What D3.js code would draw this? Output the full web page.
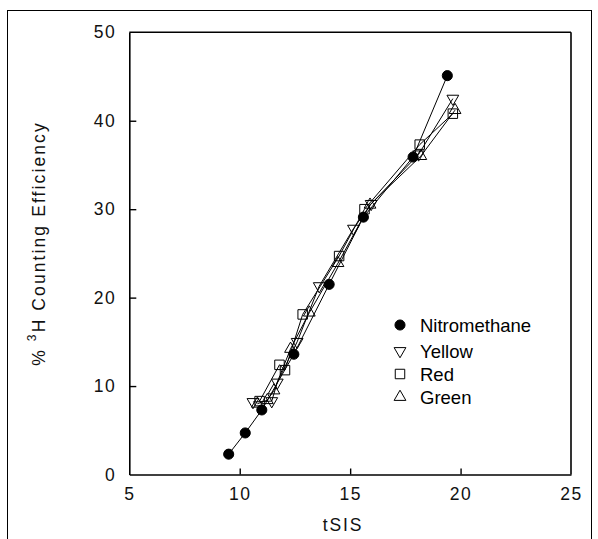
<!DOCTYPE html>
<html><head><meta charset="utf-8">
<script src="https://cdn.jsdelivr.net/npm/d3@7"></script>
<style>body{margin:0;background:#fff}svg{display:block}</style>
</head><body>
<svg id="c" width="598" height="539"></svg>
<script>
const xTicks = [5, 10, 15, 20, 25];
const yTicks = [0, 10, 20, 30, 40, 50];

const nitroX = [9.5, 10.25, 11.0, 12.45, 14.05, 15.6, 17.85, 19.4];
const nitroY = [2.3, 4.7, 7.3, 13.6, 21.5, 29.1, 35.9, 45.1];

const yellowX = [10.6, 11.45, 11.7, 12.6, 13.6, 15.15, 15.95, 18.1, 19.65];
const yellowY = [8.2, 8.3, 10.4, 15.0, 21.3, 27.8, 30.6, 36.2, 42.5];

const redX = [10.9, 11.8, 12.05, 12.85, 14.5, 15.65, 18.15, 19.65];
const redY = [8.3, 12.4, 11.8, 18.1, 24.7, 30.0, 37.3, 40.8];

const greenX = [10.8, 11.25, 11.55, 12.3, 13.15, 14.45, 15.9, 18.2, 19.75];
const greenY = [8.0, 8.4, 9.5, 14.2, 18.3, 23.9, 30.5, 36.0, 41.2];

const seriesNames = ["Nitromethane", "Yellow", "Red", "Green"];

const svg = d3.select("#c");
const x = d3.scaleLinear().domain([5, 25]).range([129.3, 571]);
const y = d3.scaleLinear().domain([0, 50]).range([474.5, 32.3]);

// outer frame
svg.append("rect").attr("x", 7.5).attr("y", 10.5).attr("width", 584).attr("height", 540)
  .attr("fill", "none").attr("stroke", "#000").attr("stroke-width", 1);

const fontAxis = "Liberation Sans, Arial, sans-serif";

// axes
const gx = svg.append("g").attr("transform", `translate(0,${y(0)})`)
  .call(d3.axisBottom(x).tickValues(xTicks).tickSizeInner(-6).tickSizeOuter(0).tickPadding(13));
const gy = svg.append("g").attr("transform", `translate(${x(5)},0)`)
  .call(d3.axisLeft(y).tickValues(yTicks).tickSizeInner(-7).tickSizeOuter(0).tickPadding(13));
[gx, gy].forEach(g => {
  g.select(".domain").attr("stroke", "#000").attr("stroke-width", 1.6);
  g.selectAll(".tick line").attr("stroke", "#000").attr("stroke-width", 1.4);
  g.selectAll(".tick text").attr("font-family", fontAxis).attr("font-size", 17.5)
    .attr("letter-spacing", 1.5).attr("fill", "#111");
});
gx.selectAll(".tick").filter(d => d === 5 || d === 25).select("line").remove();
gy.selectAll(".tick").filter(d => d === 0 || d === 50).select("line").remove();

// top and right box lines
svg.append("line").attr("x1", x(5)).attr("x2", x(25)).attr("y1", y(50)).attr("y2", y(50))
  .attr("stroke", "#000").attr("stroke-width", 1.6);
svg.append("line").attr("x1", x(25)).attr("x2", x(25)).attr("y1", y(50)).attr("y2", y(0))
  .attr("stroke", "#000").attr("stroke-width", 1.6);

// axis titles
svg.append("text").attr("x", 343).attr("y", 531).attr("text-anchor", "middle").attr("fill", "#111")
  .attr("font-family", fontAxis).attr("font-size", 17.5).attr("letter-spacing", 1.8).text("tSIS");
const yl = svg.append("text").attr("transform", "translate(45,243.5) rotate(-90)")
  .attr("text-anchor", "middle").attr("font-family", fontAxis).attr("font-size", 17.5)
  .attr("letter-spacing", 2.1).attr("fill", "#111");
yl.append("tspan").text("% ");
yl.append("tspan").attr("font-size", 12).attr("dy", -9).text("3");
yl.append("tspan").attr("dy", 9).text("H Counting Efficiency");

// series
const sym = {
  circle: d3.symbol().type(d3.symbolCircle).size(80),
  square: d3.symbol().type(d3.symbolSquare).size(90),
  tri: d3.symbol().type(d3.symbolTriangle).size(60)
};
const series = [
  {name: seriesNames[0], xs: nitroX, ys: nitroY, shape: "circle", rot: 0},
  {name: seriesNames[1], xs: yellowX, ys: yellowY, shape: "tri", rot: 180},
  {name: seriesNames[2], xs: redX, ys: redY, shape: "square", rot: 0},
  {name: seriesNames[3], xs: greenX, ys: greenY, shape: "tri", rot: 0}
];
const line = d3.line().x(d => x(d[0])).y(d => y(d[1]));
series.forEach(s => {
  const pts = s.xs.map((v, i) => [v, s.ys[i]]);
  svg.append("path").attr("d", line(pts)).attr("fill", "none").attr("stroke", "#000").attr("stroke-width", 1);
});
series.slice().reverse().forEach(s => {
  const pts = s.xs.map((v, i) => [v, s.ys[i]]);
  svg.append("g").selectAll("path").data(pts).join("path")
    .attr("d", sym[s.shape]())
    .attr("transform", d => `translate(${x(d[0])},${y(d[1])}) rotate(${s.rot})`)
    .attr("fill", s.shape === "circle" ? "#000" : "none").attr("stroke", "#000").attr("stroke-width", 1);
});

// legend
const legY = [325, 351, 374, 397];
series.forEach((s, i) => {
  svg.append("path").attr("d", sym[s.shape]())
    .attr("transform", `translate(400,${legY[i]}) rotate(${s.rot})`)
    .attr("fill", s.shape === "circle" ? "#000" : "#fff").attr("stroke", "#000").attr("stroke-width", 1);
  svg.append("text").attr("x", 420).attr("y", legY[i]).attr("dy", "0.36em")
    .attr("font-family", "Liberation Sans, Arial, sans-serif").attr("font-size", 18.5).text(s.name);
});
</script>
</body></html>
